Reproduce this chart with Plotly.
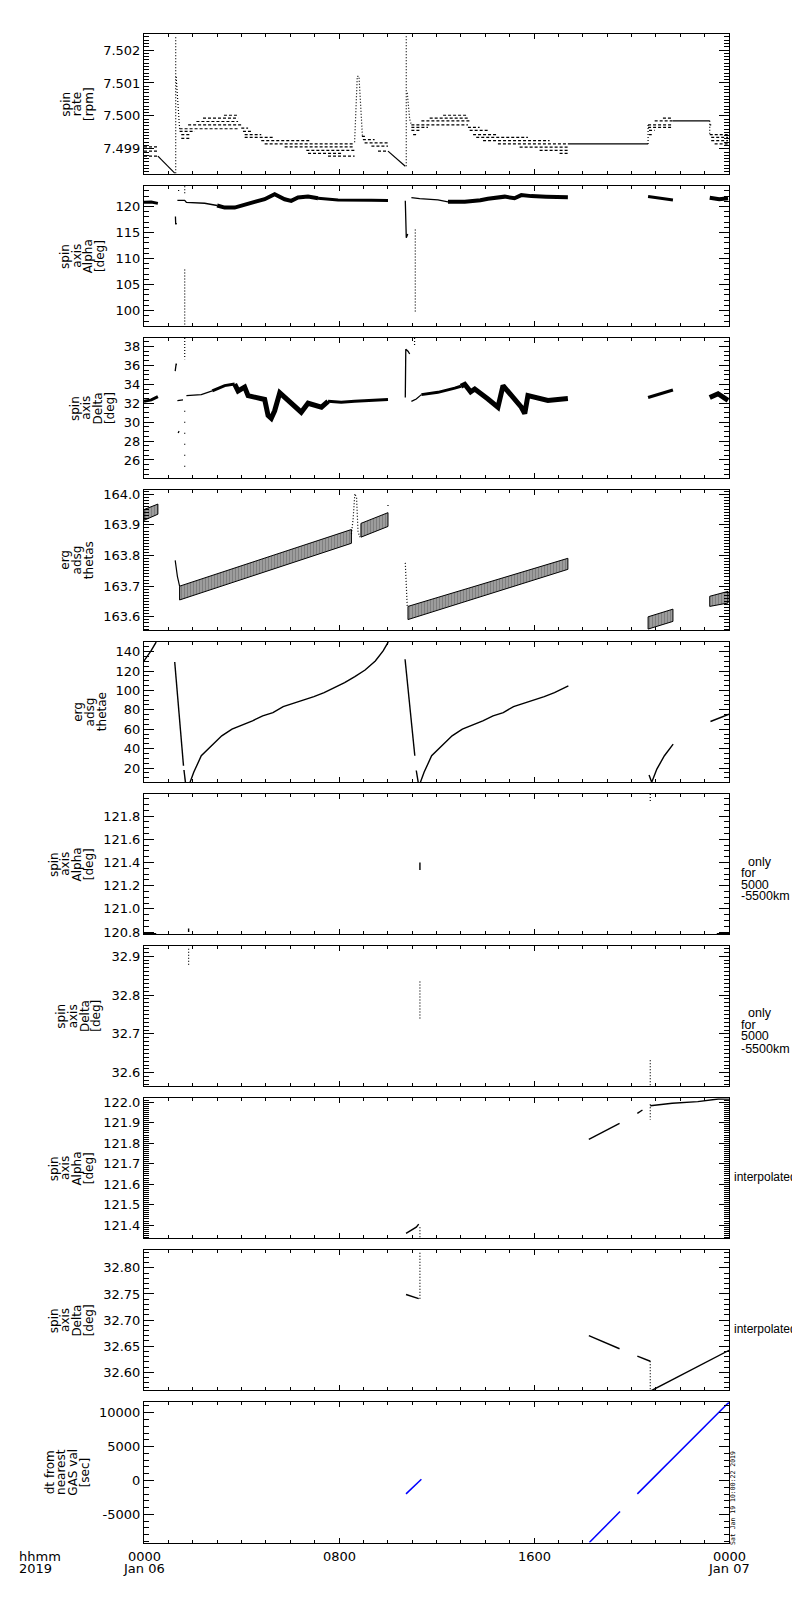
import plotly.graph_objects as go

# time axis: hours since 2019-01-06 00:00
# ---------- panel 1: spin rate [rpm] ----------
rate_dash_t0 = [0.00, 0.00, 0.00,
                1.46, 1.46, 1.53, 1.53, 1.81, 2.15, 2.42, 3.28, 3.99, 4.06, 4.13, 4.13,
                4.81, 4.95, 5.77, 6.66, 6.73, 7.55,
                8.94, 8.98, 9.05, 9.33, 9.60,
                10.97, 10.97, 10.97, 11.04, 11.38, 11.72, 12.27, 13.29, 13.36, 13.50, 13.63,
                13.91, 14.52, 15.41, 16.23, 17.05,
                20.68, 20.68, 20.72, 20.72, 20.95, 21.29,
                23.21, 23.21, 23.27, 23.27, 23.41]
rate_dash_t1 = [0.57, 0.57, 0.57,
                3.86, 2.08, 1.94, 1.87, 4.06, 3.86, 3.86, 3.83, 4.27, 4.47, 4.81, 5.36,
                6.86, 8.64, 8.64, 8.64, 8.09, 8.64,
                9.12, 9.46, 10.01, 10.01, 10.01,
                13.29, 11.65, 11.38, 11.24, 13.43, 13.29, 13.29, 13.77, 14.11, 14.52, 15.75,
                16.64, 17.39, 17.39, 17.39, 17.39,
                21.70, 21.70, 20.95, 20.83, 21.70, 21.70,
                23.27, 23.96, 23.96, 23.96, 23.96]
rate_dash_v = [7.49906, 7.49893, 7.49878,
               7.49961, 7.49953, 7.49943, 7.49932, 7.49973, 7.49983, 7.49993, 7.50002, 7.49963, 7.49953, 7.49943, 7.49935,
               7.49925, 7.49915, 7.49906, 7.49895, 7.49886, 7.49878,
               7.49938, 7.49928, 7.49918, 7.49908, 7.49893,
               7.49973, 7.49965, 7.49956, 7.49943, 7.49985, 7.49993, 7.50002, 7.49965, 7.49956, 7.49943, 7.49935,
               7.49925, 7.49915, 7.49905, 7.49895, 7.49886,
               7.49973, 7.49965, 7.49956, 7.49943, 7.49985, 7.49993,
               7.49973, 7.49943, 7.49935, 7.49925, 7.49915]
rate_line_t = [0.57, 1.26, None, 10.01, 10.72, None, 17.39, 20.68, None, 21.70, 23.21]
rate_line_v = [7.49878, 7.49826, None, 7.49893, 7.49847, None, 7.49915, 7.49915, None, 7.49985, 7.49985]
rate_dot_t = [1.30, 1.30, None, 1.32, 1.40, 1.46, None, 8.64, 8.75, 8.82, 8.96, None,
              10.76, 10.76, None, 10.80, 10.90, 10.97, None, 20.68, 20.68, None, 23.21, 23.21]
rate_dot_v = [7.49826, 7.50245, None, 7.50118, 7.50030, 7.49961, None, 7.49920, 7.50120, 7.50120, 7.49940, None,
              7.49847, 7.50245, None, 7.50070, 7.49990, 7.49973, None, 7.49915, 7.49973, None, 7.49985, 7.49943]

# ---------- panel 2: spin axis Alpha [deg] ----------
alpha_thin_t = [1.29, 1.30, 1.34, None, 1.37, 1.67, 1.74, 2.49, 3.00, None,
                10.72, 10.76, 10.82, None, 10.97, 11.31, 12.06, 12.47]
alpha_thin_v = [118.1, 116.6, 116.8, None, 121.2, 121.2, 120.8, 120.63, 120.2, None,
                121.1, 114.0, 114.7, None, 121.73, 121.5, 121.27, 120.9]
alpha_mid_t = [0.0, 0.3, 0.57, None, 7.14, 7.96, 9.33, 10.01, None, 20.68, 21.70]
alpha_mid_v = [120.8, 120.85, 120.6, None, 121.6, 121.27, 121.2, 121.15, None, 121.92, 121.27]
alpha_thick_t = [3.0, 3.31, 3.72, 4.13, 4.54, 4.95, 5.36, 5.77, 6.04, 6.32, 6.73, 7.14, None,
                 12.47, 13.16, 13.8, 14.11, 14.8, 15.2, 15.48, 15.89, 16.5, 17.39, None,
                 23.21, 23.6, 23.96]
alpha_thick_v = [120.2, 119.8, 119.8, 120.44, 120.9, 121.4, 122.37, 121.4, 121.08, 121.73, 121.92, 121.6, None,
                 120.9, 120.9, 121.2, 121.5, 121.9, 121.6, 122.2, 122.0, 121.9, 121.8, None,
                 121.7, 121.4, 121.6]
alpha_dot_t = [1.42, 1.42, None, 1.67, 1.67, None, 1.67, 1.67, None, 11.13, 11.13]
alpha_dot_v = [123.0, 123.2, None, 123.9, 122.4, None, 107.9, 97.3, None, 115.6, 99.6]

# ---------- panel 3: spin axis Delta [deg] ----------
delta_thin_t = [1.28, 1.29, 1.32, 1.33, None, 1.37, 1.60, None, 1.40, 1.44, None,
                1.74, 2.35, 2.80, None, 10.72, 10.74, 10.83, 10.90, None, 10.97, 11.17, 11.38]
delta_thin_v = [35.4, 36.0, 36.2, 36.0, None, 32.28, 32.35, None, 28.85, 29.05, None,
                32.8, 32.91, 33.3, None, 32.6, 37.7, 37.5, 37.2, None, 32.2, 32.45, 32.91]
delta_mid_t = [0.0, 0.3, 0.57, None, 2.8, 3.31, 3.72, None, 7.55, 8.09, 8.64, 10.01, None,
               11.38, 12.06, 12.75, 13.0, None, 20.68, 21.70]
delta_mid_v = [32.2, 32.35, 32.7, None, 33.3, 33.86, 34.03, None, 32.2, 32.1, 32.2, 32.4, None,
               32.91, 33.15, 33.6, 33.8, None, 32.6, 33.4]
delta_thick_t = [3.72, 3.86, 4.13, 4.27, 4.95, 5.09, 5.22, 5.36, 5.57, 6.04, 6.45, 6.73, 7.28, 7.55, None,
                 13.0, 13.16, 13.4, 13.57, 14.11, 14.52, 14.73, 15.07, 15.48, 15.62, 15.75, 16.57, 17.39, None,
                 23.21, 23.55, 23.96]
delta_thick_v = [34.03, 33.3, 33.7, 32.8, 32.4, 30.7, 30.4, 31.2, 33.1, 31.93, 31.05, 32.0, 31.58, 32.2, None,
                 33.8, 34.0, 33.2, 33.5, 32.45, 31.58, 33.86, 32.8, 31.58, 30.9, 32.8, 32.3, 32.5, None,
                 32.6, 33.0, 32.3]
delta_dot_t = [1.67, 1.67, None, 11.10, 11.10]
delta_dot_v = [38.9, 36.66, None, 38.9, 38.0]
delta_sparse_t = [1.67, 1.67]
delta_sparse_v = [31.2, 24.9]

# ---------- panel 4: erg adsg thetas ----------
thetas_t0 = [0.00, 1.46, 8.90, 10.83, 20.68, 23.21]
thetas_t1 = [0.57, 8.51, 10.01, 17.39, 21.70, 23.96]
thetas_top0 = [163.950, 163.700, 163.905, 163.634, 163.600, 163.667]
thetas_top1 = [163.968, 163.885, 163.940, 163.791, 163.625, 163.683]
thetas_bot0 = [163.915, 163.655, 163.860, 163.591, 163.560, 163.634]
thetas_bot1 = [163.935, 163.840, 163.895, 163.755, 163.585, 163.645]
thetas_line_t = [1.28, 1.37, 1.46]
thetas_line_v = [163.784, 163.732, 163.700]
thetas_dot_t = [8.51, 8.58, 8.65, 8.72, 8.78, 8.85, None, 10.72, 10.80, None, 10.01, 10.01]
thetas_dot_v = [163.87, 163.92, 164.002, 163.99, 163.88, 163.86, None, 163.776, 163.634, None, 163.962, 163.966]

# ---------- panel 5: erg adsg thetae ----------
thetae_t = [0.0, 0.28, 0.50, None,
            1.26, 1.55, 1.62, None, 1.64, 1.70, None,
            1.89, 2.04, 2.35, 2.77, 3.19, 3.61, 4.03, 4.45, 4.87, 5.29, 5.71, 6.13, 6.55, 6.97,
            7.39, 7.81, 8.23, 8.65, 9.07, 9.49, 9.81, 10.02, None,
            10.71, 11.11, None, 11.17, 11.25, None,
            11.34, 11.49, 11.80, 12.22, 12.64, 13.06, 13.48, 13.90, 14.32, 14.74, 15.16, 15.58,
            16.00, 16.42, 16.84, 17.41, None,
            20.72, 20.83, 21.04, 21.35, 21.71, None,
            23.24, 24.0]
thetae_v = [130.4, 140.5, 149.9, None,
            129.3, 40.0, 22.4, None, 18.0, 5.3, None,
            5.3, 15.6, 32.7, 43.0, 53.2, 60.1, 64.2, 68.7, 73.8, 77.2, 83.4, 86.8, 89.9, 93.7,
            97.8, 103.0, 108.1, 114.3, 121.1, 130.4, 140.7, 149.9, None,
            132.1, 32.7, None, 17.5, 5.3, None,
            5.3, 15.6, 32.7, 43.0, 53.2, 60.1, 64.2, 68.7, 73.8, 77.2, 83.4, 86.8,
            89.9, 93.7, 97.8, 104.6, None,
            12.8, 5.3, 19.0, 32.7, 44.7, None,
            68.0, 75.5]

# ---------- panel 6/7: spin axis only for 5000-5500km ----------
alpha5k_t = [0.0, 0.5, None, 1.83, 1.83, None, 11.32, 11.32, None, 23.5, 24.0]
alpha5k_v = [120.785, 120.785, None, 120.80, 120.83, None, 121.40, 121.335, None, 120.785, 120.785]
alpha5k_dot_t = [20.77, 20.77]
alpha5k_dot_v = [121.99, 121.92]
delta5k_dot_t = [1.83, 1.83, None, 11.32, 11.32, None, 20.77, 20.77]
delta5k_dot_v = [32.919, 32.876, None, 32.835, 32.739, None, 32.632, 32.567]

# ---------- panel 8/9: interpolated ----------
alpha_int_t = [10.75, 11.17, 11.27, None, 18.25, 19.51, None, 20.24, 20.45, None,
               20.77, 21.67, 22.72, 23.56, 24.0]
alpha_int_v = [121.36, 121.39, 121.405, None, 121.819, 121.897, None, 121.946, 121.962, None,
               121.983, 121.995, 122.003, 122.016, 122.015]
alpha_int_dot_t = [11.32, 11.32, None, 20.77, 20.77]
alpha_int_dot_v = [121.39, 121.34, None, 121.99, 121.915]
delta_int_t = [10.75, 11.27, None, 18.25, 19.51, None, 20.24, 20.77, None, 20.83, 24.0]
delta_int_v = [32.749, 32.741, None, 32.670, 32.645, None, 32.631, 32.621, None, 32.565, 32.642]
delta_int_dot_t = [11.32, 11.32, None, 20.77, 20.77]
delta_int_dot_v = [32.741, 32.832, None, 32.621, 32.566]

# ---------- panel 10: dt from nearest GAS val [sec] ----------
dt_t = [10.75, 11.38, None, 18.27, 19.53, None, 20.24, 24.0]
dt_v = [-1976, 192, None, -9150, -4572, None, -1976, 11548]

# axes: range, tick0, dtick, minor dtick, format
y_ranges = [[7.49823, 7.50249], [97.0, 123.96], [24.07, 38.9], [163.556, 164.014], [5.3, 149.9],
            [120.78, 121.99], [32.565, 32.926], [121.335, 122.02], [32.565, 32.834], [-9150, 11550]]
y_tick0 = [7.499, 100, 26, 163.6, 20, 120.8, 32.6, 121.4, 32.6, -5000]
y_dtick = [0.001, 5, 2, 0.1, 20, 0.2, 0.1, 0.1, 0.05, 5000]
y_minor = [0.0001, 1, 0.5, 0.01, 5, 0.05, 0.01, 0.01, 0.01, 1000]
y_fmt = [".3f", "d", "d", ".1f", "d", ".1f", ".1f", ".1f", ".2f", "d"]
y_titles = [["spin", "rate", "[rpm]"], ["spin", "axis", "Alpha", "[deg]"], ["spin", "axis", "Delta", "[deg]"],
            ["erg", "adsg", "thetas"], ["erg", "adsg", "thetae"], ["spin", "axis", "Alpha", "[deg]"],
            ["spin", "axis", "Delta", "[deg]"], ["spin", "axis", "Alpha", "[deg]"],
            ["spin", "axis", "Delta", "[deg]"], ["dt from", "nearest", "GAS val", "[sec]"]]
title_x = [81, 92, 102, 81, 94, 81, 88.5, 81, 81, 77]

x_tickvals = [0, 8, 16, 24]
x_ticktext = [["0000", "Jan 06"], ["0800"], ["1600"], ["0000", "Jan 07"]]

W, H = 800, 1600
X0, X1 = 136, 721
TOP0, STEP, PH = 23, 152.8, 141
FONT = "DejaVu Sans"


def ax(k):
    return ("x", "y") if k == 0 else ("x%d" % (k + 1), "y%d" % (k + 1))


fig = go.Figure()


def add(k, x, y, width=1.0, dash="solid", color="black"):
    xa, ya = ax(k)
    fig.add_trace(go.Scatter(x=x, y=y, mode="lines", xaxis=xa, yaxis=ya, hoverinfo="skip",
                             line=dict(color=color, width=width, dash=dash)))


DOT = "1px,2px"
DASH = "3px,2px"

# panel 1
dx, dy = [], []
for a, b, v in zip(rate_dash_t0, rate_dash_t1, rate_dash_v):
    dx += [a, b, None]
    dy += [v, v, None]
add(0, dx, dy, 1.2, DASH)
add(0, rate_line_t, rate_line_v, 1.2)
add(0, rate_dot_t, rate_dot_v, 1.2, DOT)

# panel 2
add(1, alpha_thin_t, alpha_thin_v, 1.3)
add(1, alpha_mid_t, alpha_mid_v, 3)
add(1, alpha_thick_t, alpha_thick_v, 4)
add(1, alpha_dot_t, alpha_dot_v, 1.2, DOT)

# panel 3
add(2, delta_thin_t, delta_thin_v, 1.3)
add(2, delta_mid_t, delta_mid_v, 3)
add(2, delta_thick_t, delta_thick_v, 5)
add(2, delta_dot_t, delta_dot_v, 1.2, DOT)
add(2, delta_sparse_t, delta_sparse_v, 1.2, "1px,10px")

# panel 4
px_, py_ = [], []
for a, b, t0, t1, b0, b1 in zip(thetas_t0, thetas_t1, thetas_top0, thetas_top1, thetas_bot0, thetas_bot1):
    px_ += [a, b, b, a, a, None]
    py_ += [t0, t1, b1, b0, t0, None]
xa, ya = ax(3)
fig.add_trace(go.Scatter(x=px_, y=py_, mode="lines", xaxis=xa, yaxis=ya, fill="toself",
                         hoverinfo="skip", line=dict(color="black", width=1),
                         fillpattern=dict(shape="|", size=3, solidity=0.85,
                                          fgcolor="black", bgcolor="white")))
add(3, thetas_line_t, thetas_line_v, 1.2)
add(3, thetas_dot_t, thetas_dot_v, 1.2, DOT)

# panel 5
add(4, thetae_t, thetae_v, 1.4)

# panel 6, 7
add(5, alpha5k_t, alpha5k_v, 1.4)
add(5, alpha5k_dot_t, alpha5k_dot_v, 1.2, DOT)
add(6, delta5k_dot_t, delta5k_dot_v, 1.2, DOT)

# panel 8, 9
add(7, alpha_int_t, alpha_int_v, 1.4)
add(7, alpha_int_dot_t, alpha_int_dot_v, 1.2, DOT)
add(8, delta_int_t, delta_int_v, 1.4)
add(8, delta_int_dot_t, delta_int_dot_v, 1.2, DOT)

# panel 10
add(9, dt_t, dt_v, 1.5, color="#0000ff")

layout = dict(width=W, height=H, margin=dict(l=0, r=0, t=0, b=0), showlegend=False,
              paper_bgcolor="white", plot_bgcolor="white")
annotations = []


def txt(x, y, s, size=13, angle=0, xanchor="center", family=FONT):
    annotations.append(dict(x=x / W, y=1 - y / H, xref="paper", yref="paper", text=s, showarrow=False,
                            textangle=angle, xanchor=xanchor, yanchor="middle",
                            font=dict(family=family, size=size, color="black")))


for k in range(10):
    top = TOP0 + STEP * k
    bot = top + PH
    xa, ya = ax(k)
    xkey = "xaxis" if k == 0 else "xaxis%d" % (k + 1)
    ykey = "yaxis" if k == 0 else "yaxis%d" % (k + 1)
    layout[xkey] = dict(domain=[X0 / W, X1 / W], anchor=ya, range=[0, 24], showgrid=False,
                        zeroline=False, showline=True, linecolor="black", linewidth=1,
                        mirror="allticks", ticks="inside", ticklen=5, tickcolor="black",
                        tickmode="linear", tick0=0, dtick=8, showticklabels=False,
                        minor=dict(ticks="inside", ticklen=3, tickcolor="black", tick0=0, dtick=1,
                                   showgrid=False))
    ycfg = dict(domain=[1 - bot / H, 1 - top / H], anchor=xa, range=y_ranges[k], showgrid=False,
                zeroline=False, showline=True, linecolor="black", linewidth=1,
                mirror="allticks", ticks="inside", ticklen=10, tickcolor="black",
                tickfont=dict(family=FONT, size=13, color="black"),
                minor=dict(ticks="inside", ticklen=5, tickcolor="black", tick0=y_tick0[k],
                           dtick=y_minor[k], showgrid=False))
    if k == 9:
        ycfg.update(tickmode="array", tickvals=[-5000, 0, 5000, 10000],
                    ticktext=["-5000", "0", "5000", "10000"])
    else:
        ycfg.update(tickmode="linear", tick0=y_tick0[k], dtick=y_dtick[k], tickformat=y_fmt[k])
    layout[ykey] = ycfg

    lines = y_titles[k]
    n = len(lines)
    for i, s in enumerate(lines):
        txt(title_x[k] - (n - 1 - i) * 11.7, top + PH / 2, s, size=12, angle=-90)

# right-hand notes
NOTE_FONT = "Liberation Sans"
for yy, s in zip([855, 866, 878, 889], ["only", "for", "5000", "-5500km"]):
    txt(738 if s == "only" else 731, yy, s, size=12.5, xanchor="left", family=NOTE_FONT)
for yy, s in zip([1007, 1019, 1030, 1043], ["only", "for", "5000", "-5500km"]):
    txt(738 if s == "only" else 731, yy, s, size=12.5, xanchor="left", family=NOTE_FONT)
txt(724, 1171.7, "interpolated", size=12, xanchor="left", family=NOTE_FONT)
txt(724, 1324.3, "interpolated", size=12, xanchor="left", family=NOTE_FONT)

# time labels
for tv, parts in zip(x_tickvals, x_ticktext):
    xp = X0 + (X1 - X0) * tv / 24
    for j, s in enumerate(parts):
        txt(xp, 1553 + 12.5 * j, s, size=13)
txt(9, 1553, "hhmm", size=13, xanchor="left")
txt(9, 1565.5, "2019", size=13, xanchor="left")

# creation stamp
txt(725, 1494.5, "Sat Jan 19 10:00:22 2019", size=6.5, angle=-90, family="DejaVu Sans Mono")

layout["annotations"] = annotations
fig.update_layout(**layout)
fig.write_html("out.html")
